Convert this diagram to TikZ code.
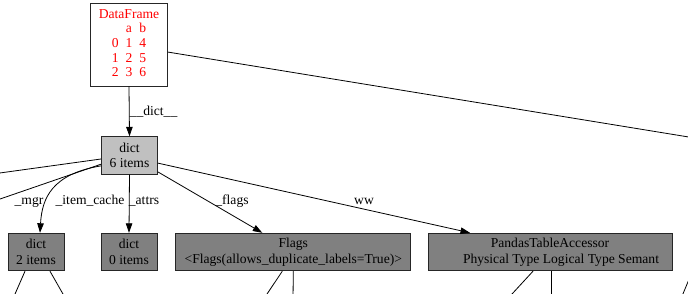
\documentclass[tikz,border=0pt]{standalone}
\definecolor{dfred}{RGB}{255,0,0}
\definecolor{lightfill}{RGB}{192,192,192}
\definecolor{darkfill}{RGB}{128,128,128}
\usepackage{fontspec}
\setmainfont{Liberation Serif}
\usetikzlibrary{arrows.meta}
\tikzset{
  objbox/.style={draw=black!85, line width=0.9pt, fill=darkfill, inner sep=2pt,
              font=\fontsize{13.6}{15.5}\selectfont, align=center, minimum height=37.5pt},
  elabel/.style={font=\fontsize{13.6}{15.5}\selectfont, anchor=base, inner sep=0pt},
  flow/.style={-{Triangle[length=9.5pt,width=6.5pt]}, line width=0.8pt},
  bare/.style={line width=0.8pt},
}

\begin{document}
\begin{tikzpicture}[x=1pt,y=-1pt]
        \useasboundingbox (0,0) rectangle (688,294);
        \clip (0,0) rectangle (688,294);
        \node[draw=black!85,line width=0.9pt,fill=white,minimum width=77pt,minimum height=83pt,inner sep=0pt,
              text=dfred,font=\fontsize{13.6}{14.6}\selectfont] (df) at (129,44.5)
          {\begin{tabular}{@{}c@{\hspace{7pt}}c@{\hspace{7pt}}c@{}}
             \multicolumn{3}{c}{\makebox[0pt]{DataFrame}}\\[0.2pt]
              & a & b\\ 0 & 1 & 4\\ 1 & 2 & 5\\ 2 & 3 & 6
           \end{tabular}};
        \node[objbox,fill=lightfill,minimum width=56pt] (d6) at (129.5,155.5) {dict\\6 items};
        \node[objbox,minimum width=56pt] (d2) at (36,252) {dict\\2 items};
        \node[objbox,minimum width=56pt] (d0) at (129,252) {dict\\0 items};
        \node[objbox,minimum width=235pt] (flags) at (293.3,252) {Flags\\<Flags(allows\_duplicate\_labels=True)>};
        \node[objbox,minimum width=244pt] (pandas) at (550,252) {PandasTableAccessor\\\hspace*{22pt}Physical Type Logical Type Semant};
        % free ends, outside the frame
        \coordinate (dfout) at (750,147);
        \coordinate (leftA) at (-40,178.5);
        \coordinate (leftB) at (-40,212.8);
        \coordinate (d2outA) at (12.4,300);
        \coordinate (d2outB) at (66.4,300);
        \coordinate (flagsoutA) at (263,300);
        \coordinate (flagsoutB) at (293,300);
        \coordinate (pandasoutA) at (506.5,300);
        \coordinate (pandasoutB) at (551,300);
        \coordinate (rightA) at (690,277);
        \coordinate (rightB) at (680.4,300);
        \draw[flow] (df.south) -- (d6.north);
        \node[elabel] (ldict) at (153.5,115.5) {\_\_dict\_\_};
        \draw[bare] (df.349) -- (dfout);
        \draw[bare] (d6.187) -- (leftA);
        \draw[bare] (d6.197) -- (leftB);
        \draw[flow] (d6.200) .. controls (52,174) and (42,198) .. ([xshift=4pt]d2.north);
        \node[elabel] (lmgr) at (29,204.5) {\_mgr};
        \node[elabel] (lcache) at (90,204.5) {\_item\_cache};
        \draw[flow] (d6.south) -- (d0.north);
        \node[elabel] (lattrs) at (144,204.5) {\_attrs};
        \draw[flow] (d6.330) -- ([xshift=-31pt]flags.north);
        \node[elabel] (lflags) at (232,204.5) {\_flags};
        \draw[flow] (d6.345) -- ([xshift=-80pt]pandas.north);
        \node[elabel] (lww) at (364,204.5) {ww};
        \draw[bare] ([xshift=-11pt]d2.south) -- (d2outA);
        \draw[bare] ([xshift=14pt]d2.south) -- (d2outB);
        \draw[bare] ([xshift=-11pt]flags.south) -- (flagsoutA);
        \draw[bare] (flags.south) -- (flagsoutB);
        \draw[bare] ([xshift=-17pt]pandas.south) -- (pandasoutA);
        \draw[bare] ([xshift=1pt]pandas.south) -- (pandasoutB);
        \draw[bare] (rightA) -- (rightB);
      \end{tikzpicture}
\end{document}
